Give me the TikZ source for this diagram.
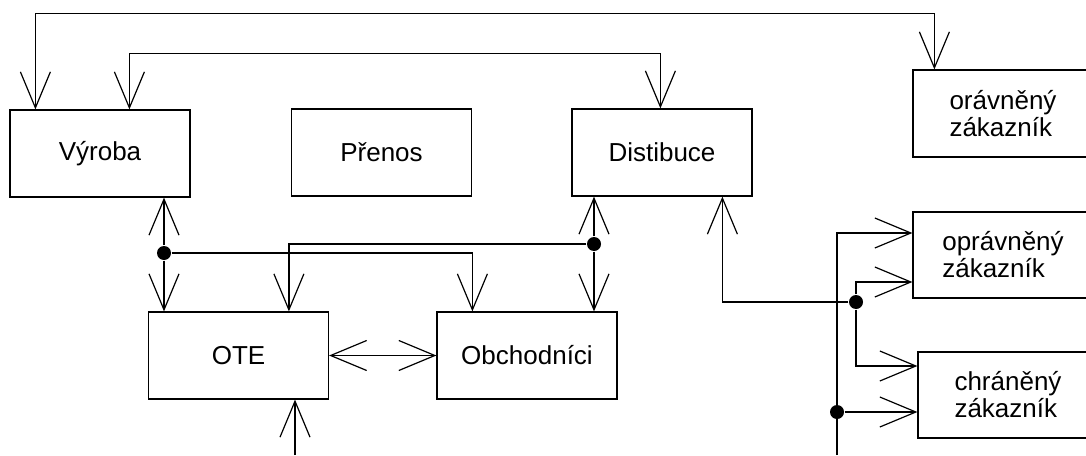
\documentclass[tikz,border=0pt]{standalone}
\usepackage{fontspec}
\setmainfont{Liberation Sans}
\usetikzlibrary{arrows.meta}
\tikzset{>={Straight Barb[length=18pt, width=15pt]}}
\tikzset{box/.style = {draw, rectangle, inner sep = 0, minimum width = 90pt,
                       minimum height = 43.5pt, font = \fontsize{13}{13.5}\selectfont}}
\tikzset{circ/.style = {fill, circle, inner sep = 0, minimum size = 7pt}}

\begin{document}
\begin{tikzpicture}[x = 0.5pt, y = -0.5pt, line width = 0.6pt]
  \useasboundingbox (0, 0) rectangle (1086, 455);
  \node [box] (vyroba) at (100, 153.5) {Výroba};
  \node [box] (prenos) at (381.5, 152.5) {Přenos};
  \node [box] (dist) at (662, 152.5) {Distibuce};
  \node [box] (ote) at (238.5, 355.5) {OTE};
  \node [box] (obch) at (527, 355.5) {Obchodníci};
  \node [box, align = left] (orav) at (1003, 113.5) {orávněný\\zákazník};
  \node [box, align = left, minimum height = 43pt] (oprav) at (1003, 255) {oprávněný\\zákazník};
  \node [box, align = left, minimum height = 43pt] (chran) at (1008, 395) {chráněný\\zákazník};
  \node [circ] (dv) at (164, 253) {};
  \node [circ] (dd) at (594, 244) {};
  \node [circ] (dz) at (856, 302) {};
  \node [circ] (dc) at (837, 412) {};
  \coordinate (vstup) at (295, 455);
  \coordinate (vedeni) at (837, 455);
  \draw [<->] ([xshift = 13pt] vyroba.north west) -- ++(0, -96) -| ([xshift = 11pt] orav.north west);
  \draw [<->] ([xshift = 60pt] vyroba.north west) -- ++(0, -56) -| ([xshift = 44.5pt] dist.north west);
  \draw [->] (dv) -- (vyroba.south -| dv);
  \draw [->] (dv) -- (ote.north -| dv);
  \draw [->] (dv) -| ([xshift = 18pt] obch.north west);
  \draw [->] (dd) -- (dist.south -| dd);
  \draw [->] (dd) -- (obch.north -| dd);
  \draw [->] (dd) -| ([xshift = 70.5pt] ote.north west);
  \draw [<->] (ote) -- (obch);
  \draw [->] (vstup) -- (ote.south -| vstup);
  \draw [->] (dz) -| ([xshift = 75.5pt] dist.south west);
  \draw [->] (dz) |- ([yshift = -13.5pt] oprav.west);
  \draw [->] (dz) |- ([yshift = 14.5pt] chran.west);
  \draw [->] (vedeni) |- ([yshift = 11pt] oprav.west);
  \draw [->] (dc) -- (chran.west |- dc);
\end{tikzpicture}
\end{document}
